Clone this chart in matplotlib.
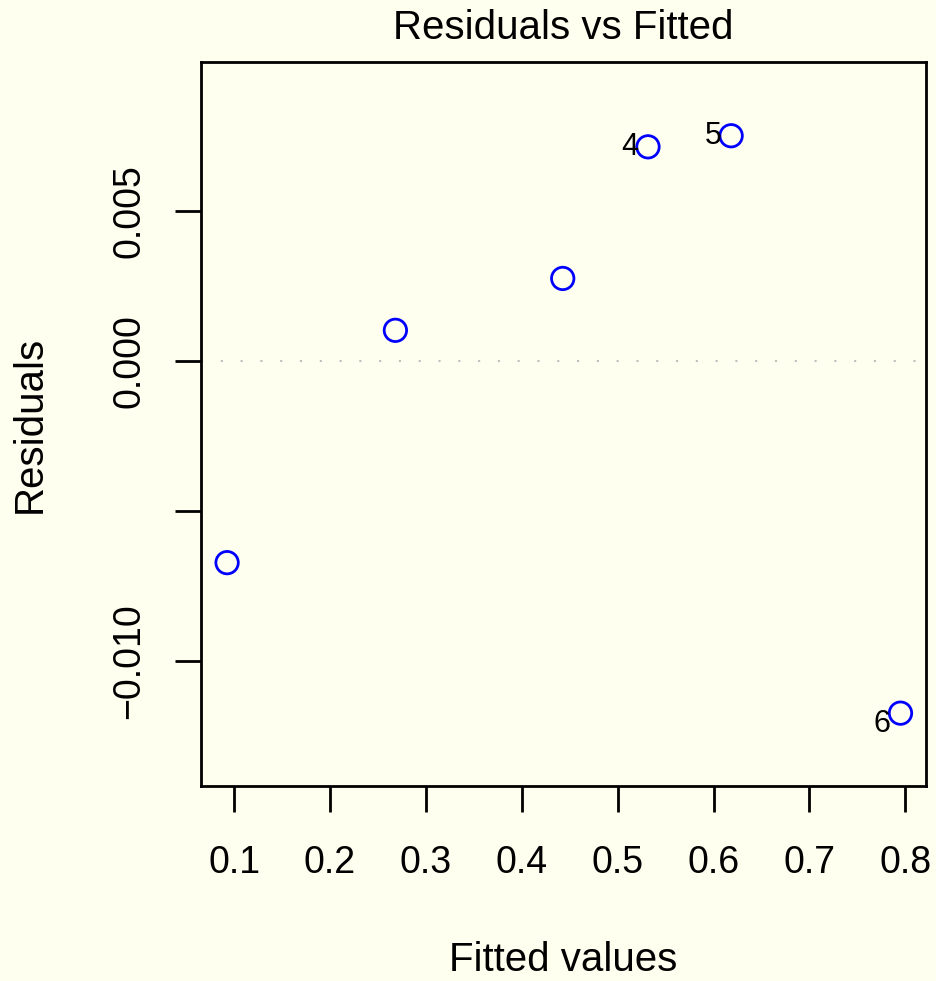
import matplotlib
matplotlib.use("Agg")
import matplotlib.pyplot as plt

plt.rcParams["font.family"] = ["Liberation Sans", "DejaVu Sans"]

BG = "#FFFFF0"

fitted = [0.0927, 0.2682, 0.4427, 0.5316, 0.6183, 0.7949]
resid = [-0.00672, 0.00103, 0.00276, 0.00715, 0.00752, -0.01174]
obs_ids = ["1", "2", "3", "4", "5", "6"]
flagged = ["4", "5", "6"]

x_ticks = [0.1, 0.2, 0.3, 0.4, 0.5, 0.6, 0.7, 0.8]
y_ticks = [-0.010, -0.005, 0.000, 0.005]
y_labels = ["-0.010", "", "0.000", "0.005"]

fig = plt.figure(figsize=(9.36, 9.81), dpi=100, facecolor=BG)
ax = fig.add_axes([201 / 936, 1 - 786 / 981, 725 / 936, 724 / 981], facecolor=BG)

ax.axhline(0, color="#BEBEBE", lw=1.5, ls=(0, (1, 8.5)), zorder=1)
ax.scatter(fitted, resid, s=260, facecolors="none", edgecolors="#0000FF",
           linewidths=2, zorder=3)

# label the flagged observations on the left of their points
for x, y, lab in zip(fitted, resid, obs_ids):
    if lab in flagged:
        dy = -8 if y < 0 else 0
        ax.annotate(lab, (x, y), xytext=(-7, dy), textcoords="offset points",
                    ha="right", va="center", fontsize=22, color="black")

ax.set_xlim(0.0655, 0.8215)
ax.set_ylim(-0.01417, 0.00998)
ax.set_xticks(x_ticks)
ax.set_xticklabels([f"{t:.1f}" for t in x_ticks])
ax.set_yticks(y_ticks)
ax.set_yticklabels([s.replace("-", "\u2212") for s in y_labels],
                   rotation=90, va="center")

ax.tick_params(axis="both", length=18.5, width=2, labelsize=27, color="black")
ax.tick_params(axis="x", pad=24)
ax.tick_params(axis="y", pad=20)
for sp in ax.spines.values():
    sp.set_linewidth(2)

ax.text(0.5, 1.047, "Residuals vs Fitted", transform=ax.transAxes,
        ha="center", va="center", fontsize=29)
ax.set_xlabel("Fitted values", fontsize=29)
ax.xaxis.set_label_coords(0.5, -0.240)
ax.xaxis.label.set_va("center")
ax.set_ylabel("Residuals", fontsize=29)
ax.yaxis.set_label_coords(-0.236, 0.5)
ax.yaxis.label.set_va("center")

fig.savefig("out.png", dpi=100, facecolor=BG)
